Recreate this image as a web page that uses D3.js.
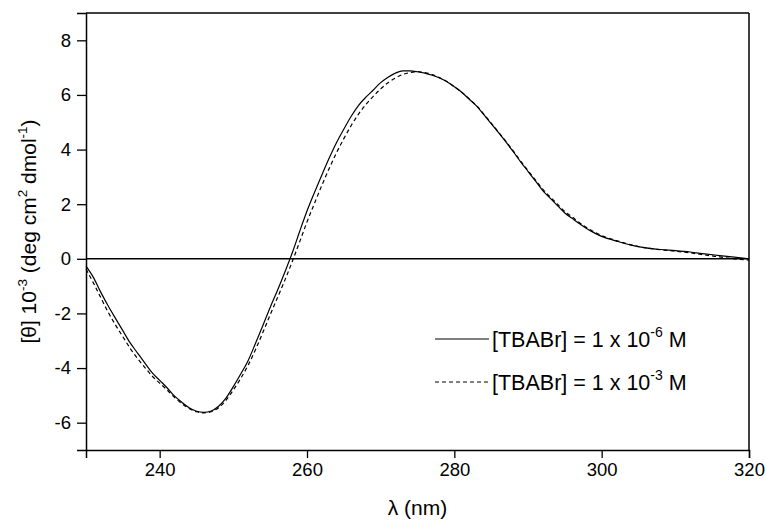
<!DOCTYPE html>
<html><head><meta charset="utf-8">
<script src="https://cdn.jsdelivr.net/npm/d3@7"></script>
<style>
body{margin:0;background:#fff;}
svg{display:block;font-family:"Liberation Sans",Arial,sans-serif;}
</style></head>
<body><svg id="c" width="765" height="520"></svg>
<script>
// Wavelengths (nm)
const lambda = [230,231,232,233,234,235,236,237,238,239,240,241,242,243,244,245,246,247,248,249,250,251,252,253,254,255,256,257,258,259,260,261,262,263,264,265,266,267,268,269,270,271,272,273,274,275,276,277,278,279,280,281,282,283,284,285,286,287,288,289,290,291,292,293,294,295,296,297,298,299,300,302,304,306,308,310,312,314,316,318,320];
// [TBABr] = 1e-6 M (solid)
const solid = [-0.27,-0.68,-1.22,-1.72,-2.18,-2.63,-3.08,-3.45,-3.82,-4.18,-4.45,-4.72,-5.02,-5.25,-5.45,-5.58,-5.62,-5.57,-5.40,-5.10,-4.68,-4.22,-3.73,-3.10,-2.45,-1.78,-1.15,-0.48,0.22,1.00,1.75,2.42,3.06,3.68,4.25,4.75,5.22,5.62,5.92,6.18,6.45,6.65,6.80,6.88,6.88,6.85,6.80,6.72,6.62,6.48,6.30,6.10,5.85,5.60,5.28,4.95,4.62,4.28,3.92,3.55,3.20,2.85,2.50,2.22,1.95,1.68,1.48,1.28,1.10,0.95,0.82,0.65,0.50,0.40,0.34,0.30,0.25,0.18,0.12,0.06,0.00];
// [TBABr] = 1e-3 M (dashed)
const dashed = [-0.38,-0.88,-1.42,-1.95,-2.42,-2.85,-3.28,-3.65,-3.98,-4.30,-4.55,-4.80,-5.07,-5.30,-5.48,-5.60,-5.64,-5.60,-5.45,-5.18,-4.80,-4.38,-3.90,-3.33,-2.70,-2.05,-1.42,-0.78,-0.10,0.62,1.35,2.02,2.68,3.30,3.88,4.40,4.88,5.30,5.65,5.95,6.22,6.45,6.62,6.75,6.82,6.85,6.82,6.75,6.63,6.49,6.30,6.10,5.86,5.61,5.30,4.97,4.64,4.30,3.95,3.58,3.23,2.89,2.55,2.27,2.00,1.73,1.53,1.32,1.14,0.98,0.85,0.67,0.51,0.40,0.33,0.28,0.22,0.14,0.07,0.00,-0.05];
const xMajor = [240,260,280,300,320];
const xMinor = [230,250,270,290,310];
const yMajor = [-6,-4,-2,0,2,4,6,8];
const yMinor = [-7,-5,-3,-1,1,3,5,7,9];
const legendLabels = [["[TBABr] = 1 x 10","-6"," M"],["[TBABr] = 1 x 10","-3"," M"]];

const svg = d3.select("#c");
const L=86,R=749,T=13,B=450;
const x = d3.scaleLinear().domain([230,320]).range([L,R]);
const y = d3.scaleLinear().domain([-7,9]).range([B,T]);
const fmt = d => String(d);

// frame top/right
svg.append("line").attr("x1",L).attr("x2",R).attr("y1",T).attr("y2",T).attr("stroke","#000").attr("stroke-width",1.5);
svg.append("line").attr("x1",R).attr("x2",R).attr("y1",T).attr("y2",B).attr("stroke","#000").attr("stroke-width",1.5);

// x axis
const gx = svg.append("g").attr("transform",`translate(0,${B})`);
gx.call(d3.axisBottom(x).tickValues(xMinor).tickSize(5).tickFormat(""));
gx.call(d3.axisBottom(x).tickValues(xMajor).tickSize(8).tickPadding(5).tickFormat(fmt));
gx.selectAll("path.domain").attr("stroke-width",1.5);
gx.selectAll(".tick line").attr("stroke-width",1.3);
gx.selectAll("text").attr("font-size","18.5px").attr("fill","#000").attr("font-family","Liberation Sans, Arial, sans-serif");

// y axis
const gy = svg.append("g").attr("transform",`translate(${L},0)`);
gy.call(d3.axisLeft(y).tickValues(yMinor).tickSize(5).tickFormat(""));
gy.call(d3.axisLeft(y).tickValues(yMajor).tickSize(9).tickPadding(6).tickFormat(fmt));
gy.selectAll("path.domain").attr("stroke-width",1.5);
gy.selectAll(".tick line").attr("stroke-width",1.3);
gy.selectAll("text").attr("font-size","18.5px").attr("fill","#000").attr("font-family","Liberation Sans, Arial, sans-serif");

// zero line
svg.append("line").attr("x1",L).attr("x2",R).attr("y1",y(0)).attr("y2",y(0)).attr("stroke","#000").attr("stroke-width",1.5);

// curves
const line = d3.line().x((d,i)=>x(lambda[i])).y(d=>y(d)).curve(d3.curveMonotoneX);
svg.append("path").attr("d",line(solid)).attr("fill","none").attr("stroke","#000").attr("stroke-width",1.2);
svg.append("path").attr("d",line(dashed)).attr("fill","none").attr("stroke","#000").attr("stroke-width",1.2).attr("stroke-dasharray","4,3");

// legend
const lg = svg.append("g");
const ly=[339,382];
legendLabels.forEach((lab,i)=>{
  lg.append("line").attr("x1",435).attr("x2",489).attr("y1",ly[i]).attr("y2",ly[i]).attr("stroke",i?"#000":"#555").attr("stroke-width",i?1:1.3).attr("stroke-dasharray",i?"4,3":null);
  const t = lg.append("text").attr("x",492).attr("y",ly[i]+8).attr("font-size","21.5px").attr("fill","#000");
  t.append("tspan").text(lab[0]);
  t.append("tspan").attr("dy",-10).attr("font-size","14px").text(lab[1]);
  t.append("tspan").attr("dy",10).text(lab[2]);
});

// axis titles
svg.append("text").attr("x",(L+R)/2).attr("y",515).attr("text-anchor","middle").attr("font-size","21px").attr("fill","#000").text("λ (nm)");
const yt = svg.append("text").attr("transform",`translate(36,${(T+B)/2}) rotate(-90)`).attr("text-anchor","middle").attr("font-size","21px").attr("fill","#000");
yt.append("tspan").text("[θ] 10");
yt.append("tspan").attr("dy",-9).attr("font-size","13.5px").text("-3");
yt.append("tspan").attr("dy",9).text(" (deg cm");
yt.append("tspan").attr("dy",-9).attr("font-size","13.5px").text("2");
yt.append("tspan").attr("dy",9).text(" dmol");
yt.append("tspan").attr("dy",-9).attr("font-size","13.5px").text("-1");
yt.append("tspan").attr("dy",9).text(")");
</script></body></html>
